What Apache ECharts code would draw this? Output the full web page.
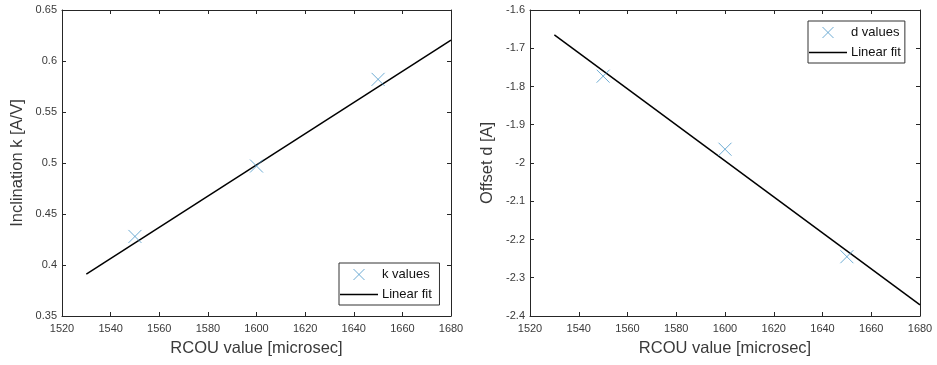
<!DOCTYPE html>
<html>
<head>
<meta charset="utf-8">
<script src="https://cdn.jsdelivr.net/npm/echarts@6/dist/echarts.min.js"></script>
<style>html,body{margin:0;padding:0;background:#fff}#c{width:937px;height:365px}</style>
</head>
<body>
<div id="c"></div>
<script>
// Data
const rcou = [1550, 1600, 1650];
const kValues = [0.428, 0.497, 0.582];
const dValues = [-1.773, -1.964, -2.245];
const fitX = [1530, 1680];
const kFit = [0.391, 0.6205];
const dFit = [-1.665, -2.371];

const xTicks = {min: 1520, max: 1680, interval: 20};
const kTicks = {min: 0.35, max: 0.65, interval: 0.05};
const dTicks = {min: -2.4, max: -1.6, interval: 0.1};

const FONT = '"Liberation Sans", Arial, sans-serif';
const AX = '#262626';
const LBL = '#3a3a3a';
const MARK = '#4a97c8';
const crossPath = 'path://M0,0L10,10M10,0L0,10';
const lineIcon = 'path://M0,0H40V1.8H0Z';

function pts(xs, ys) { return xs.map((x, i) => [x, ys[i]]); }

function xAxes(gi) {
  return [
    {gridIndex: gi, type: 'value', min: xTicks.min, max: xTicks.max, interval: xTicks.interval,
     name: 'RCOU value [microsec]', nameLocation: 'middle', nameGap: 24,
     nameTextStyle: {fontFamily: FONT, fontSize: 16.5, color: LBL},
     axisLine: {show: true, lineStyle: {color: AX, width: 1}},
     axisTick: {show: true, inside: true, length: 4, lineStyle: {color: AX}},
     axisLabel: {fontFamily: FONT, fontSize: 11, color: LBL, margin: 7, showMaxLabel: true, showMinLabel: true,
                 formatter: v => String(v)},
     splitLine: {show: false}},
    {gridIndex: gi, type: 'value', position: 'top', min: xTicks.min, max: xTicks.max, interval: xTicks.interval,
     axisLine: {show: true, lineStyle: {color: AX, width: 1}},
     axisTick: {show: true, inside: true, length: 4, lineStyle: {color: AX}},
     axisLabel: {show: false}, splitLine: {show: false}}
  ];
}
function yAxes(gi, t, name, gap) {
  return [
    {gridIndex: gi, type: 'value', min: t.min, max: t.max, interval: t.interval,
     name: name, nameLocation: 'middle', nameGap: gap,
     nameTextStyle: {fontFamily: FONT, fontSize: 16.5, color: LBL},
     axisLine: {show: true, lineStyle: {color: AX, width: 1}},
     axisTick: {show: true, inside: true, length: 4, lineStyle: {color: AX}},
     axisLabel: {fontFamily: FONT, fontSize: 11, color: LBL, margin: 5, showMaxLabel: true, showMinLabel: true,
                 formatter: v => String(Math.round(v * 1000) / 1000)},
     splitLine: {show: false}},
    {gridIndex: gi, type: 'value', position: 'right', min: t.min, max: t.max, interval: t.interval,
     axisLine: {show: true, lineStyle: {color: AX, width: 1}},
     axisTick: {show: true, inside: true, length: 4, lineStyle: {color: AX}},
     axisLabel: {show: false}, splitLine: {show: false}}
  ];
}

const chart = echarts.init(document.getElementById('c'), null, {renderer: 'canvas'});
const legendCommon = {
  orient: 'vertical', backgroundColor: '#fff', borderColor: '#333', borderWidth: 1,
  padding: [5, 4, 4, 1], itemGap: 7, itemWidth: 38, itemHeight: 11,
  textStyle: {fontFamily: FONT, fontSize: 13, color: '#111', padding: [0, 0, 0, -1]}
};
const crossLegendStyle = {color: 'rgba(0,0,0,0)', borderColor: MARK, borderWidth: 1};
chart.setOption({
  animation: false,
  grid: [
    {left: 62, right: 486, top: 10, bottom: 49},
    {left: 530, right: 17, top: 10, bottom: 49}
  ],
  xAxis: [...xAxes(0), ...xAxes(1)],
  yAxis: [...yAxes(0, kTicks, 'Inclination k [A/V]', 36), ...yAxes(1, dTicks, 'Offset d [A]', 34)],
  legend: [
    Object.assign({}, legendCommon, {left: 339, top: 263,
      data: [{name: 'k values', itemStyle: crossLegendStyle}, {name: 'Linear fit ', icon: lineIcon}]}),
    Object.assign({}, legendCommon, {left: 808, top: 21,
      data: [{name: 'd values', itemStyle: crossLegendStyle}, {name: 'Linear fit', icon: lineIcon}]})
  ],
  series: [
    {name: 'k values', type: 'scatter', xAxisIndex: 0, yAxisIndex: 0, data: pts(rcou, kValues),
     symbol: crossPath, symbolSize: 13,
     itemStyle: {color: 'rgba(0,0,0,0)', borderColor: MARK, borderWidth: 1}, z: 3},
    {name: 'Linear fit ', type: 'line', xAxisIndex: 0, yAxisIndex: 0, data: pts(fitX, kFit),
     symbol: 'none', lineStyle: {color: '#000', width: 1.5}, itemStyle: {color: '#000'}, z: 2},
    {name: 'd values', type: 'scatter', xAxisIndex: 2, yAxisIndex: 2, data: pts(rcou, dValues),
     symbol: crossPath, symbolSize: 13,
     itemStyle: {color: 'rgba(0,0,0,0)', borderColor: MARK, borderWidth: 1}, z: 3},
    {name: 'Linear fit', type: 'line', xAxisIndex: 2, yAxisIndex: 2, data: pts(fitX, dFit),
     symbol: 'none', lineStyle: {color: '#000', width: 1.5}, itemStyle: {color: '#000'}, z: 2}
  ]
});
</script>
</body>
</html>
